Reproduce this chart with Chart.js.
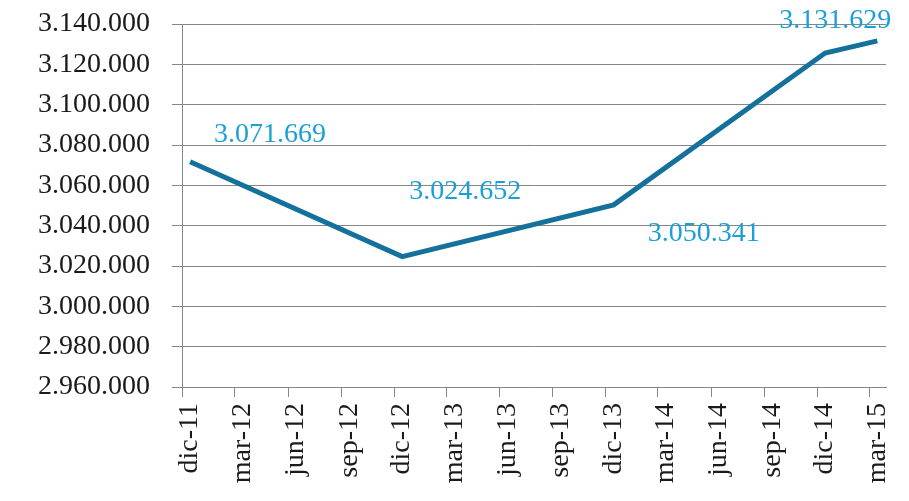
<!DOCTYPE html>
<html>
<head>
<meta charset="utf-8">
<script src="https://cdn.jsdelivr.net/npm/chart.js@4/dist/chart.umd.min.js"></script>
<style>
  html, body { margin: 0; padding: 0; background: #fff; }
  #wrap { width: 909px; height: 501px; }
</style>
</head>
<body>
<div id="wrap"><canvas id="lineChart" width="909" height="501"></canvas></div>
<script>
// dates of the values (mid month, as in the source sheet)
const pointDates = ['2011-12-15', '2012-12-15', '2013-12-15', '2014-12-15', '2015-03-15'];
const pointValues = [3071669, 3024652, 3050341, 3125600, 3131629];

// quarterly ticks on the date axis
const tickDates = ['2011-12-01', '2012-03-01', '2012-06-01', '2012-09-01', '2012-12-01', '2013-03-01', '2013-06-01',
    '2013-09-01', '2013-12-01', '2014-03-01', '2014-06-01', '2014-09-01', '2014-12-01', '2015-03-01'];
const tickLabels = ['dic-11', 'mar-12', 'jun-12', 'sep-12', 'dic-12', 'mar-13', 'jun-13',
    'sep-13', 'dic-13', 'mar-14', 'jun-14', 'sep-14', 'dic-14', 'mar-15'];

const yMin = 2960000;
const yMax = 3140000;
const yStep = 20000;

// which points carry a value label, and where the label sits relative to the point
const labelOffsets = { 0: [80, -27], 1: [63, -65], 2: [90, 29], 4: [-42, -20] };

const fontFamily = "'Liberation Serif', 'DejaVu Serif', serif";

function fmt(v) {
    return String(Math.round(v)).replace(/\B(?=(\d{3})+(?!\d))/g, '.');
}

const valueLabels = {
    id: 'valueLabels',
    afterDatasetsDraw(chart) {
        const ctx = chart.ctx;
        const meta = chart.getDatasetMeta(0);
        ctx.save();
        ctx.font = "28px " + fontFamily;
        ctx.fillStyle = '#1c9fd6';
        ctx.textAlign = 'center';
        ctx.textBaseline = 'middle';
        Object.keys(labelOffsets).forEach(k => {
            const i = Number(k);
            const pt = meta.data[i];
            const off = labelOffsets[k];
            ctx.fillText(fmt(pointValues[i]), pt.x + off[0], pt.y + off[1]);
        });
        ctx.restore();
    }
};

const ctx = document.getElementById('lineChart').getContext('2d');

new Chart(ctx, {
    type: 'line',
    data: {
        datasets: [{
            data: pointDates.map((d, i) => ({ x: Date.parse(d), y: pointValues[i] })),
            borderColor: '#13719b',
            borderWidth: 5,
            pointRadius: 0,
            tension: 0,
            fill: false
        }]
    },
    options: {
        responsive: false,
        animation: false,
        layout: { padding: { top: 24, right: 23, left: 0, bottom: 0 } },
        plugins: {
            legend: { display: false },
            tooltip: { enabled: false }
        },
        scales: {
            x: {
                type: 'linear',
                min: Date.parse('2011-12-01'),
                max: Date.parse('2015-03-30'),
                afterBuildTicks: scale => {
                    scale.ticks = tickDates.map(d => ({ value: Date.parse(d) }));
                },
                afterFit: scale => {
                    scale.height = 114;
                    scale.paddingLeft = 0;
                    scale.paddingRight = 0;
                },
                border: { display: true, color: '#868686', width: 1 },
                grid: { drawOnChartArea: false, drawTicks: true, tickLength: 10, color: '#868686' },
                ticks: {
                    autoSkip: false,
                    minRotation: 90,
                    maxRotation: 90,
                    labelOffset: 8,
                    padding: 6,
                    color: '#1a1a1a',
                    font: { family: fontFamily, size: 28 },
                    callback: (v, i) => tickLabels[i]
                }
            },
            y: {
                min: yMin,
                max: yMax,
                afterFit: scale => {
                    scale.width = 182;
                    scale.paddingTop = 0;
                    scale.paddingBottom = 0;
                },
                border: { display: true, color: '#868686', width: 1 },
                grid: { color: '#868686', tickLength: 10 },
                ticks: {
                    stepSize: yStep,
                    padding: 22,
                    color: '#1a1a1a',
                    font: { family: fontFamily, size: 28 },
                    callback: v => fmt(v)
                }
            }
        }
    },
    plugins: [valueLabels]
});
</script>
</body>
</html>
